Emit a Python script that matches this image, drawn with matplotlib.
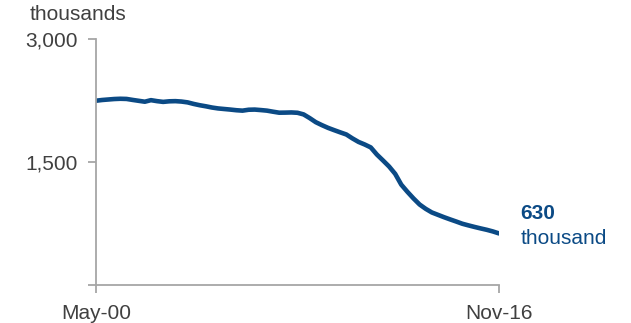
import matplotlib
matplotlib.use("Agg")
import matplotlib.pyplot as plt
import numpy as np

plt.rcParams['font.family'] = ['Liberation Sans', 'DejaVu Sans']

# Quarterly readings, May 2000 to Nov 2016 (thousands)
months_from_start = list(range(0, 199, 3))
values = [
    2250, 2259, 2265, 2271, 2274, 2272, 2260, 2249, 2238, 2257,
    2245, 2236, 2243, 2245, 2240, 2230, 2211, 2195, 2182, 2167,
    2156, 2149, 2142, 2134, 2129, 2140, 2142, 2136, 2129, 2116,
    2104, 2105, 2107, 2103, 2083, 2038, 1988, 1952, 1919, 1891,
    1864, 1838, 1790, 1747, 1716, 1680, 1593, 1521, 1447, 1357,
    1225, 1138, 1057, 983, 930, 886, 857, 828, 801, 775,
    748, 728, 709, 691, 674, 654, 630,
]
x_tick_labels = ["May-00", "Nov-16"]
y_ticks = [0, 1500, 3000]
y_tick_labels = ["", "1,500", "3,000"]
latest_value = values[-1]

line_color = "#0B4A85"
text_gray = "#404040"
axis_gray = "#A6A6A6"

fig = plt.figure(figsize=(6.31, 3.23), dpi=100)
ax = fig.add_axes([0.1521, 0.1176, 0.6387, 0.7607])

ax.plot(months_from_start, values, color=line_color, linewidth=3.3,
        solid_capstyle="round", solid_joinstyle="round")

ax.set_xlim(months_from_start[0], months_from_start[-1])
ax.set_ylim(0, 3000)

ax.set_xticks([months_from_start[0], months_from_start[-1]])
ax.set_xticklabels(x_tick_labels)
ax.set_yticks(y_ticks)
ax.set_yticklabels(y_tick_labels)

for s in ("top", "right"):
    ax.spines[s].set_visible(False)
for s in ("left", "bottom"):
    ax.spines[s].set_color(axis_gray)
    ax.spines[s].set_linewidth(1.3)

ax.tick_params(axis="x", direction="out", length=6, width=1.3, color=axis_gray,
               labelsize=15, labelcolor=text_gray, pad=8)
ax.tick_params(axis="y", direction="out", length=6, width=1.3, color=axis_gray,
               labelsize=15, labelcolor=text_gray, pad=7)

fig.text(30 / 631, 1 - 15 / 323, "thousands", fontsize=15, color=text_gray,
         ha="left", va="center")

ax.annotate(f"{latest_value:,}", xy=(months_from_start[-1], latest_value),
            xytext=(15.5, 14), textcoords="offset points", fontsize=15,
            fontweight="bold", color=line_color, ha="left", va="center")
ax.annotate("thousand", xy=(months_from_start[-1], latest_value),
            xytext=(15.5, -3.5), textcoords="offset points", fontsize=15,
            color=line_color, ha="left", va="center")

fig.savefig("out.png", dpi=100)
